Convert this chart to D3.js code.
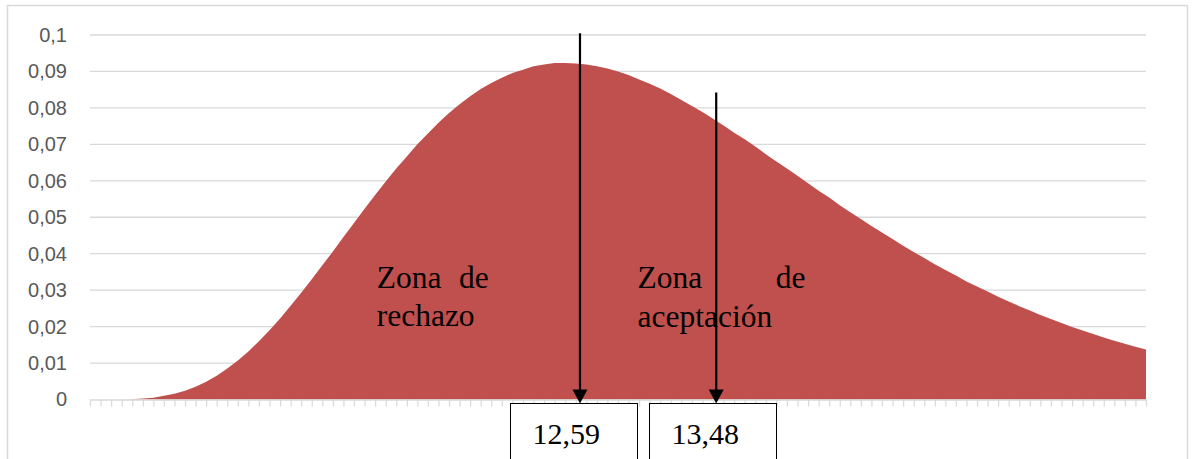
<!DOCTYPE html>
<html>
<head>
  <meta charset="utf-8">
  <title>Zona de rechazo / aceptación</title>
  <style>
    body { margin: 0; background: #fff; }
    .ylab text { font-family: "Liberation Sans", Arial, sans-serif; font-size: 20px; fill: #595959; }
    .note { font-family: "Liberation Serif", "Times New Roman", serif; font-size: 30px; fill: #000; }
    .zone { font-family: "Liberation Serif", "Times New Roman", serif; font-size: 31.5px; fill: #000; }
  </style>
  <script src="https://d3js.org/d3.v7.min.js"></script>
</head>
<body>
  <div id="chart"></div>
  <script>
    // categorias del eje X (sin etiquetas visibles)
    var categories = [0, 0.2, 0.4, 0.6, 0.8, 1, 1.2, 1.4, 1.6, 1.8, 2, 2.2, 2.4, 2.6, 2.8, 3, 3.2, 3.4, 3.6, 3.8,
      4, 4.2, 4.4, 4.6, 4.8, 5, 5.2, 5.4, 5.6, 5.8, 6, 6.2, 6.4, 6.6, 6.8, 7, 7.2, 7.4, 7.6, 7.8,
      8, 8.2, 8.4, 8.6, 8.8, 9, 9.2, 9.4, 9.6, 9.8, 10, 10.2, 10.4, 10.6, 10.8, 11, 11.2, 11.4, 11.6, 11.8,
      12, 12.2, 12.4, 12.6, 12.8, 13, 13.2, 13.4, 13.6, 13.8, 14, 14.2, 14.4, 14.6, 14.8, 15, 15.2, 15.4, 15.6, 15.8,
      16, 16.2, 16.4, 16.6, 16.8, 17, 17.2, 17.4, 17.6, 17.8, 18, 18.2, 18.4, 18.6, 18.8, 19, 19.2, 19.4, 19.6, 19.8, 20];

    // densidad
    var density = [0, 0.0000, 0.0000, 0.0000, 0.0001, 0.0003, 0.0005, 0.0010, 0.0016, 0.0024,
      0.0035, 0.0049, 0.0065, 0.0085, 0.0107, 0.0132, 0.0160, 0.0190, 0.0222, 0.0257,
      0.0293, 0.0330, 0.0368, 0.0406, 0.0446, 0.0484, 0.0523, 0.0561, 0.0598, 0.0634,
      0.0667, 0.0700, 0.0730, 0.0759, 0.0786, 0.0810, 0.0832, 0.0852, 0.0868, 0.0883,
      0.0896, 0.0905, 0.0914, 0.0919, 0.0923, 0.0923, 0.0922, 0.0919, 0.0914, 0.0908,
      0.0900, 0.0890, 0.0878, 0.0866, 0.0853, 0.0838, 0.0822, 0.0805, 0.0789, 0.0770,
      0.0752, 0.0732, 0.0714, 0.0694, 0.0673, 0.0653, 0.0634, 0.0614, 0.0593, 0.0573,
      0.0554, 0.0533, 0.0514, 0.0495, 0.0476, 0.0458, 0.0440, 0.0422, 0.0405, 0.0388,
      0.0371, 0.0355, 0.0340, 0.0324, 0.0310, 0.0296, 0.0282, 0.0269, 0.0256, 0.0244,
      0.0232, 0.0221, 0.0210, 0.0199, 0.0189, 0.0180, 0.0170, 0.0161, 0.0153, 0.0145, 0.0137];

    var yTicks = [0, 0.01, 0.02, 0.03, 0.04, 0.05, 0.06, 0.07, 0.08, 0.09, 0.1];

    // flechas con su valor (posicion en unidades del grafico)
    var arrowX = [9.28, 11.86];
    var arrowTop = [0.1005, 0.0842];
    var arrowLabels = ["12,59", "13,48"];
    var boxFrom = [7.96, 10.59];
    var boxTo = [10.36, 12.99];

    // textos de zona
    var zoneWords = ["Zona", "de", "rechazo", "Zona", "de", "aceptación"];
    var zoneX = [5.43, 7.55, 5.43, 10.37, 13.55, 10.37];
    var zoneAnchor = ["start", "end", "start", "start", "end", "start"];
    var zoneY = [0.0307, 0.0307, 0.0203, 0.0305, 0.0305, 0.0200];

    var W = 1194, H = 459;
    var margin = {top: 35, right: 48, bottom: 59.5, left: 90};
    var width = W - margin.left - margin.right,
        height = H - margin.top - margin.bottom;

    var svg = d3.select("#chart").append("svg")
        .attr("width", W)
        .attr("height", H);

    // marco del grafico
    svg.append("rect")
      .attr("x", 7.5).attr("y", 5.5)
      .attr("width", 1180).attr("height", 470)
      .attr("fill", "#fff")
      .attr("stroke", "#d9d9d9")
      .attr("stroke-width", 1.5);

    var g = svg.append("g")
        .attr("transform", "translate(" + margin.left + "," + margin.top + ")");

    var x = d3.scaleLinear()
      .domain([categories[0], categories[categories.length - 1]])
      .range([0, width]);

    var y = d3.scaleLinear()
      .domain([0, 0.1])
      .range([height, 0]);

    // lineas de division
    g.append("g")
      .selectAll("line")
      .data(yTicks.slice(1))
      .join("line")
        .attr("x1", 0).attr("x2", width)
        .attr("y1", function(d) { return y(d); })
        .attr("y2", function(d) { return y(d); })
        .attr("stroke", "#d9d9d9")
        .attr("stroke-width", 1.3);

    var fmt = function(d) { return d === 0 ? "0" : String(+d.toFixed(2)).replace(".", ","); };

    var yAxis = d3.axisLeft(y)
      .tickValues(yTicks)
      .tickFormat(fmt)
      .tickSize(0)
      .tickPadding(23);

    g.append("g")
      .attr("class", "ylab")
      .call(yAxis)
      .call(function(s) { s.select(".domain").remove(); });

    // area
    var area = d3.area()
      .x(function(d, i) { return x(categories[i]); })
      .y0(y(0))
      .y1(function(d) { return y(d); });

    g.append("path")
      .datum(density)
      .attr("fill", "#c0504d")
      .attr("d", area);

    // eje X con marcas
    var xAxis = d3.axisBottom(x)
      .tickValues(categories)
      .tickFormat("")
      .tickSize(7)
      .tickSizeOuter(0);

    var xg = g.append("g")
      .attr("transform", "translate(0," + height + ")")
      .call(xAxis);
    xg.select(".domain").attr("stroke", "#d9d9d9").attr("stroke-width", 1.5);
    xg.selectAll(".tick line").attr("stroke", "#d9d9d9").attr("stroke-width", 1.2);

    // textos de zona
    g.append("g")
      .selectAll("text")
      .data(zoneWords)
      .join("text")
        .attr("class", "zone")
        .attr("x", function(d, i) { return x(zoneX[i]); })
        .attr("y", function(d, i) { return y(zoneY[i]); })
        .attr("text-anchor", function(d, i) { return zoneAnchor[i]; })
        .text(function(d) { return d; });

    // cajas con valores
    var tipY = height + 4;
    arrowLabels.forEach(function(lab, i) {
      var bx0 = Math.round(x(boxFrom[i])) + 0.5,
          bx1 = Math.round(x(boxTo[i])) + 0.5;
      g.append("rect")
        .attr("x", bx0).attr("y", tipY)
        .attr("width", bx1 - bx0).attr("height", 80)
        .attr("fill", "#fff")
        .attr("stroke", "#000")
        .attr("stroke-width", 1);
      g.append("text")
        .attr("class", "note")
        .attr("x", bx0 + 22)
        .attr("y", tipY + 40)
        .text(lab);
    });

    // flechas
    arrowX.forEach(function(v, i) {
      var ax = x(v);
      g.append("line")
        .attr("x1", ax).attr("x2", ax)
        .attr("y1", y(arrowTop[i]))
        .attr("y2", tipY - 12)
        .attr("stroke", "#000")
        .attr("stroke-width", 2.2);
      g.append("path")
        .attr("d", "M" + (ax - 7.5) + "," + (tipY - 14) + "L" + (ax + 7.5) + "," + (tipY - 14) + "L" + ax + "," + tipY + "Z")
        .attr("fill", "#000");
    });
  </script>
</body>
</html>
